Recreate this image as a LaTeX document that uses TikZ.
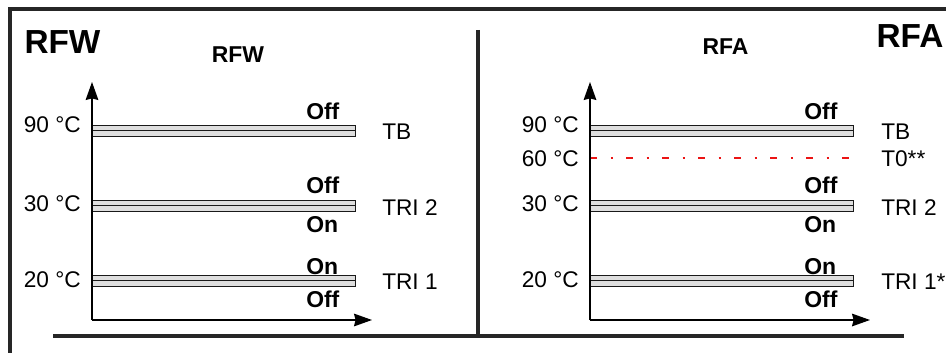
\documentclass[tikz,border=0pt]{standalone}
\usepackage{fontspec}
\setmainfont{Liberation Sans}
\usetikzlibrary{arrows.meta}
\definecolor{tzero}{RGB}{235,20,20}
\begin{document}
\begin{tikzpicture}[x=0.75pt,y=-0.75pt,
  frameline/.style={line width=3pt, draw=black!85, line join=miter},
  axisline/.style={line width=1pt, -{Stealth[length=13.5pt,width=9.5pt,inset=1.2pt]}},
  barpart/.style={draw=black!90, line width=0.65pt, fill=black!13},
  lbl/.style={inner sep=0pt, font=\fontsize{17}{18}\selectfont},
  bold/.style={inner sep=0pt, font=\fontsize{17.2}{18}\selectfont\bfseries},
  bigtitle/.style={inner sep=0pt, font=\fontsize{25}{28}\selectfont\bfseries},
  tdash/.style={draw=tzero, line width=1.5pt, dash pattern=on 5.5pt off 10pt on 1.5pt off 10pt}
]
\useasboundingbox (0,0) rectangle (946,353);

% frame
\draw[frameline] (9.5,353) -- (9.5,9.5) -- (946,9.5);
\draw[frameline] (53,335.5) -- (904,335.5);
\draw[frameline] (477.5,30) -- (477.5,335.5);

% bars
\foreach \dx in {0,498} {
  \foreach \yc in {130.5,205.5,280.5} {
    \draw[barpart] (92+\dx,\yc-5.5) rectangle (355+\dx,\yc);
    \draw[barpart] (92+\dx,\yc) rectangle (355+\dx,\yc+5.5);
  }
}

% T0 dashed line
\coordinate (d0) at (590,157.5);
\coordinate (d1) at (853,157.5);
\draw[tdash] (d0) -- (d1);

% axes
\coordinate (O1) at (92,320);
\coordinate (Y1) at (92,82);
\coordinate (X1) at (372,320);
\coordinate (O2) at (590,320);
\coordinate (Y2) at (590,82);
\coordinate (X2) at (870,320);
\draw[axisline] (O1) -- (Y1);
\draw[axisline] (O1) -- (X1);
\draw[axisline] (O2) -- (Y2);
\draw[axisline] (O2) -- (X2);

% titles
\node[bigtitle] (tw) at (62.5,42) {RFW};
\node[bold] (sw) at (238,55) {RFW};
\node[bold] (sa) at (725.5,47) {RFA};
\node[bigtitle] (ta) at (910,36) {RFA};

% left chart labels
\node[lbl, anchor=east] (l90) at (81,124.7) {90 °C};
\node[lbl, anchor=east] (l30) at (81,204) {30 °C};
\node[lbl, anchor=east] (l20) at (81,280) {20 °C};
\node[bold, anchor=west] (lo1) at (306,111) {Off};
\node[bold, anchor=west] (lo2) at (306,185) {Off};
\node[bold, anchor=west] (ln2) at (306,225) {On};
\node[bold, anchor=west] (ln1) at (306,267) {On};
\node[bold, anchor=west] (lo3) at (306,299.5) {Off};
\node[lbl, anchor=west] (ltb) at (382,131.5) {TB};
\node[lbl, anchor=west] (ltr2) at (382,207.5) {TRI 2};
\node[lbl, anchor=west] (ltr1) at (382,282) {TRI 1};

% right chart labels
\node[lbl, anchor=east] (r90) at (579,124.5) {90 °C};
\node[lbl, anchor=east] (r60) at (579,158.5) {60 °C};
\node[lbl, anchor=east] (r30) at (579,204) {30 °C};
\node[lbl, anchor=east] (r20) at (579,279.5) {20 °C};
\node[bold, anchor=west] (ro1) at (804,111) {Off};
\node[bold, anchor=west] (ro2) at (804,185) {Off};
\node[bold, anchor=west] (rn2) at (804,225) {On};
\node[bold, anchor=west] (rn1) at (804,267) {On};
\node[bold, anchor=west] (ro3) at (804,299.5) {Off};
\node[lbl, anchor=west] (rtb) at (881,131.5) {TB};
\node[lbl, anchor=west] (rt0) at (881,159) {T0**};
\node[lbl, anchor=west] (rtr2) at (881,207.5) {TRI 2};
\node[lbl, anchor=west] (rtr1) at (881,282) {TRI 1*};
\end{tikzpicture}
\end{document}
